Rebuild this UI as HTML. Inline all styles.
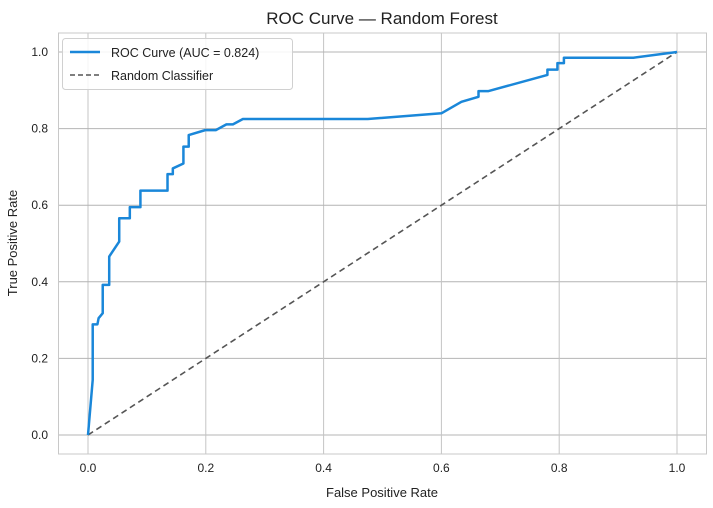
<!DOCTYPE html>
<html><head><meta charset="utf-8"><style>
body{margin:0;background:#fff;font-family:"Liberation Sans",Arial,sans-serif}
svg{display:block}
text{font-family:"Liberation Sans",Arial,sans-serif;fill:#222}
</style></head><body>
<svg id="chart" width="713" height="508">
<text x="382" y="24" text-anchor="middle" font-size="17">ROC Curve — Random Forest</text>
<g id="grid"></g>
<rect x="58.5" y="33" width="648" height="421" fill="none" stroke="#c8c8c8" stroke-width="1"/>
<g id="marks"></g>
<text x="382" y="497" text-anchor="middle" font-size="13">False Positive Rate</text>
<text transform="translate(17,243) rotate(-90)" text-anchor="middle" font-size="13">True Positive Rate</text>
<g>
<rect x="62.5" y="38.5" width="230" height="51" rx="3" fill="#fff" fill-opacity="0.85" stroke="#d0d0d0"/>
<line x1="70" y1="52" x2="100" y2="52" stroke="#1a87d9" stroke-width="2.5"/>
<text x="111" y="57" font-size="12.5">ROC Curve (AUC = 0.824)</text>
<line x1="70" y1="75" x2="100" y2="75" stroke="#555" stroke-width="1.6" stroke-dasharray="5,3"/>
<text x="111" y="80" font-size="12.5">Random Classifier</text>
</g>
</svg>
<script>
const fpr=[0,0.008,0.008,0.016,0.018,0.025,0.025,0.036,0.036,0.053,0.053,0.071,0.071,0.089,0.089,0.135,0.135,0.144,0.144,0.162,0.162,0.171,0.171,0.199,0.217,0.235,0.246,0.263,0.475,0.600,0.634,0.663,0.663,0.680,0.780,0.780,0.797,0.797,0.808,0.808,0.926,1];
const tpr=[0,0.144,0.289,0.289,0.305,0.318,0.392,0.392,0.466,0.505,0.566,0.566,0.595,0.595,0.638,0.638,0.681,0.681,0.696,0.709,0.753,0.753,0.783,0.796,0.796,0.811,0.811,0.825,0.825,0.840,0.870,0.883,0.898,0.898,0.940,0.954,0.954,0.971,0.971,0.985,0.985,1];
const ticks=[0,0.2,0.4,0.6,0.8,1.0];
const tickLabels=["0.0","0.2","0.4","0.6","0.8","1.0"];
const X=v=>88+v*589, Y=v=>435-v*383;
const NS="http://www.w3.org/2000/svg";
const grid=document.getElementById('grid'), marks=document.getElementById('marks'), svg=document.getElementById('chart');
function mk(t,a,p){const e=document.createElementNS(NS,t);for(const k in a)e.setAttribute(k,a[k]);p.appendChild(e);return e;}
ticks.forEach((t,i)=>{
 const gx=mk('line',{x1:X(t),x2:X(t),y1:33,y2:454,stroke:'#c4c4c4','stroke-width':1},grid);
 
 
 const gy=mk('line',{x1:58.5,x2:706.5,y1:Y(t),y2:Y(t),stroke:'#b4b4b4','stroke-width':1},grid);
 
 
 const tx=mk('text',{x:X(t),y:472,'text-anchor':'middle','font-size':12},svg);
 tx.textContent=tickLabels[i];
 
 
 const ty=mk('text',{x:48,y:Y(t)+4,'text-anchor':'end','font-size':12},svg);
 ty.textContent=tickLabels[i];
 
 
});
const diag=mk('line',{x1:X(0),y1:Y(0),x2:X(1),y2:Y(1),stroke:'#555','stroke-width':1.6,'stroke-dasharray':'6,4'},marks);


const roc=mk('polyline',{points:fpr.map((f,i)=>X(f)+','+Y(tpr[i])).join(' '),fill:'none',stroke:'#1a87d9','stroke-width':2.5,'stroke-linejoin':'round'},marks);


</script>
</body></html>
